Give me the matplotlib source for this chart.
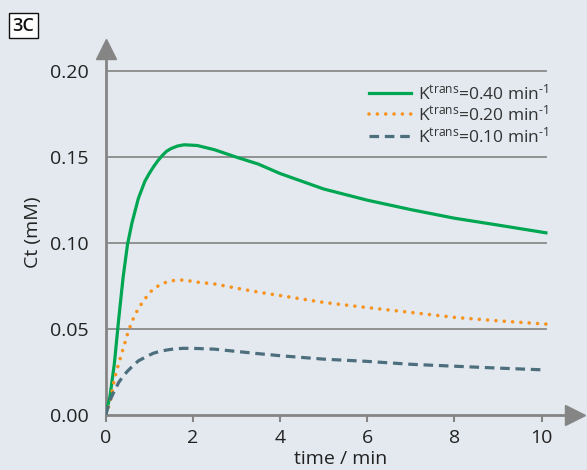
import numpy as np
import matplotlib
matplotlib.use('Agg')
import matplotlib.pyplot as plt

plt.rcParams['font.family'] = ['Open Sans', 'DejaVu Sans']
plt.rcParams['mathtext.fontset'] = 'custom'
plt.rcParams['mathtext.rm'] = 'Open Sans'
plt.rcParams['mathtext.it'] = 'Open Sans'
plt.rcParams['mathtext.bf'] = 'Open Sans'

# time grid (min) and concentrations (mM)
time = [0, 0.1, 0.2, 0.3, 0.4, 0.5, 0.6, 0.75, 0.9, 1.0, 1.1, 1.2, 1.3, 1.4,
        1.5, 1.65, 1.8, 2.1, 2.5, 3, 3.5, 4, 5, 6, 7, 8, 9, 10.1]
ct_040 = [0, 0.011, 0.030, 0.056, 0.080, 0.099, 0.1114, 0.126, 0.136, 0.1405,
          0.1445, 0.148, 0.151, 0.1535, 0.155, 0.1565, 0.1572, 0.1568, 0.1543,
          0.150, 0.146, 0.1405, 0.1315, 0.125, 0.1195, 0.1145, 0.1105, 0.106]
ct_020 = [0, 0.007, 0.021, 0.030, 0.0385, 0.047, 0.0543, 0.062, 0.0675, 0.0708,
          0.0735, 0.075, 0.0765, 0.0773, 0.078, 0.0785, 0.0785, 0.0773, 0.0762,
          0.0738, 0.0715, 0.0695, 0.0655, 0.0625, 0.0597, 0.0568, 0.0548, 0.0529]
ct_010 = [0, 0.0087, 0.014, 0.019, 0.0225, 0.0255, 0.028, 0.0315, 0.0335, 0.0348,
          0.036, 0.0367, 0.0373, 0.0378, 0.0382, 0.0386, 0.0388, 0.0387, 0.0383,
          0.037, 0.0357, 0.0345, 0.0325, 0.0312, 0.0295, 0.0284, 0.0273, 0.0262]
labels = ['K$^{\\mathregular{trans}}$=0.40 min$^{\\text{-1}}$',
          'K$^{\\mathregular{trans}}$=0.20 min$^{\\text{-1}}$',
          'K$^{\\mathregular{trans}}$=0.10 min$^{\\text{-1}}$']
xticks = [0, 2, 4, 6, 8, 10]
yticks = [0.00, 0.05, 0.10, 0.15, 0.20]

bg = '#e3e9ef'
axis_col = '#858585'
txt_col = '#222222'

fig = plt.figure(figsize=(5.87, 4.70), dpi=100, facecolor=bg)
ax = fig.add_axes([0.180, 0.117, 0.799, 0.779], facecolor=bg)

for yv in yticks[1:]:
    ax.plot([0, 10.1], [yv, yv], color='#8a8a8a', lw=1.3, zorder=1)

ax.plot(time, ct_040, color='#00a651', lw=2.3, label=labels[0], zorder=3)
ax.plot(time, ct_020, color='#f7931e', lw=2.6, linestyle=(0, (0.01, 2.3)),
        dash_capstyle='round', label=labels[1], zorder=3)
ax.plot(time, ct_010, color='#4d6e7d', lw=2.3, linestyle=(0, (3.0, 1.8)),
        label=labels[2], zorder=3)

ax.set_xlim(0, 10.76)
ax.set_ylim(0, 0.213)
ax.set_xticks(xticks)
ax.set_xticklabels([str(v) for v in xticks])
ax.set_yticks(yticks)
ax.set_yticklabels(['%.2f' % v for v in yticks])
ax.tick_params(axis='x', direction='out', length=5, width=1.5, color=axis_col,
               labelsize=14, labelcolor=txt_col, pad=5)
ax.tick_params(axis='y', length=0, labelsize=14, labelcolor=txt_col, pad=12)

for side in ['top', 'right']:
    ax.spines[side].set_visible(False)
for side in ['left', 'bottom']:
    ax.spines[side].set_color(axis_col)
    ax.spines[side].set_linewidth(2.0)

# arrow heads on the axes
ax.plot(1, 0, marker='>', ms=14, color=axis_col, transform=ax.transAxes,
        clip_on=False, zorder=5)
ax.plot(0, 1, marker='^', ms=14, color=axis_col, transform=ax.transAxes,
        clip_on=False, zorder=5)

ax.set_xlabel('time / min', fontsize=14, color=txt_col, labelpad=2)
ax.set_ylabel('Ct (mM)', fontsize=14, color=txt_col, labelpad=6)

leg = ax.legend(loc='upper right', bbox_to_anchor=(0.97, 0.94), frameon=False,
                fontsize=12.5, handlelength=2.4, handletextpad=0.4,
                labelspacing=0.1, borderpad=0.2)
for t in leg.get_texts():
    t.set_color('#333333')

fig.text(0.040, 0.945, '3C', fontsize=13, fontweight='semibold', color='#111111',
         ha='center', va='center',
         bbox=dict(boxstyle='square,pad=0.2', facecolor='white',
                   edgecolor='#111111', lw=1.0))

fig.savefig('out.png', dpi=100, facecolor=bg)
